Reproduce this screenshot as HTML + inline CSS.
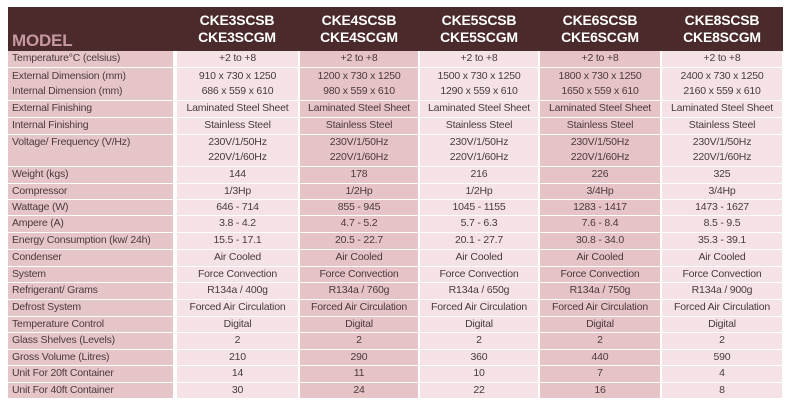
<!DOCTYPE html>
<html><head><meta charset="utf-8">
<style>
body{margin:0;background:#fff;width:791px;height:403px;overflow:hidden;font-family:"Liberation Sans",sans-serif;}
#spec{position:absolute;left:8px;top:7px;border-collapse:collapse;table-layout:fixed;}
#spec td{padding:0;font-size:10.5px;color:#4a3a3c;text-align:center;border-bottom:1px solid #fff;border-right:2px solid #fff;line-height:15px;white-space:nowrap;overflow:hidden;letter-spacing:-0.2px}
#spec tr.hd td{background:#4b2a2b;color:#fff;font-weight:bold;font-size:14px;line-height:17px;border:none;transform-origin:center;}
#spec tr.hd td.lab{color:#c7989f;font-size:17px;text-align:left;vertical-align:bottom;padding:0 0 2px 4px}
#spec td.lab{background:#e6c5c9;text-align:left;padding-left:4px;border-right:4px double #fff}
#spec td.c1,#spec td.c3,#spec td.c5{background:#f5e2e4}
#spec td.c2,#spec td.c4{background:#e6c3c7}
</style></head><body>
<table id="spec">
<colgroup><col style="width:167px"><col style="width:124px"><col style="width:120px"><col style="width:120px"><col style="width:122px"><col style="width:122px"></colgroup>
<tr class="hd" style="height:44px"><td class="lab">MODEL</td><td>CKE3SCSB<br>CKE3SCGM</td><td>CKE4SCSB<br>CKE4SCGM</td><td>CKE5SCSB<br>CKE5SCGM</td><td>CKE6SCSB<br>CKE6SCGM</td><td>CKE8SCSB<br>CKE8SCGM</td></tr>
<tr style="height:16px"><td class="lab">Temperature°C (celsius)</td><td class="c1">+2 to +8</td><td class="c2">+2 to +8</td><td class="c3">+2 to +8</td><td class="c4">+2 to +8</td><td class="c5">+2 to +8</td></tr>
<tr style="height:33px"><td class="lab">External Dimension (mm)<br>Internal Dimension (mm)</td><td class="c1">910 x 730 x 1250<br>686 x 559 x 610</td><td class="c2">1200 x 730 x 1250<br>980 x 559 x 610</td><td class="c3">1500 x 730 x 1250<br>1290 x 559 x 610</td><td class="c4">1800 x 730 x 1250<br>1650 x 559 x 610</td><td class="c5">2400 x 730 x 1250<br>2160 x 559 x 610</td></tr>
<tr style="height:17px"><td class="lab">External Finishing</td><td class="c1">Laminated Steel Sheet</td><td class="c2">Laminated Steel Sheet</td><td class="c3">Laminated Steel Sheet</td><td class="c4">Laminated Steel Sheet</td><td class="c5">Laminated Steel Sheet</td></tr>
<tr style="height:17px"><td class="lab">Internal Finishing</td><td class="c1">Stainless Steel</td><td class="c2">Stainless Steel</td><td class="c3">Stainless Steel</td><td class="c4">Stainless Steel</td><td class="c5">Stainless Steel</td></tr>
<tr style="height:32px"><td class="lab" style="vertical-align:top">Voltage/ Frequency (V/Hz)</td><td class="c1">230V/1/50Hz<br>220V/1/60Hz</td><td class="c2">230V/1/50Hz<br>220V/1/60Hz</td><td class="c3">230V/1/50Hz<br>220V/1/60Hz</td><td class="c4">230V/1/50Hz<br>220V/1/60Hz</td><td class="c5">230V/1/50Hz<br>220V/1/60Hz</td></tr>
<tr style="height:17px"><td class="lab">Weight (kgs)</td><td class="c1">144</td><td class="c2">178</td><td class="c3">216</td><td class="c4">226</td><td class="c5">325</td></tr>
<tr style="height:16px"><td class="lab">Compressor</td><td class="c1">1/3Hp</td><td class="c2">1/2Hp</td><td class="c3">1/2Hp</td><td class="c4">3/4Hp</td><td class="c5">3/4Hp</td></tr>
<tr style="height:16px"><td class="lab">Wattage (W)</td><td class="c1">646 - 714</td><td class="c2">855 - 945</td><td class="c3">1045 - 1155</td><td class="c4">1283 - 1417</td><td class="c5">1473 - 1627</td></tr>
<tr style="height:17px"><td class="lab">Ampere (A)</td><td class="c1">3.8 - 4.2</td><td class="c2">4.7 - 5.2</td><td class="c3">5.7 - 6.3</td><td class="c4">7.6 - 8.4</td><td class="c5">8.5 - 9.5</td></tr>
<tr style="height:17px"><td class="lab">Energy Consumption (kw/ 24h)</td><td class="c1">15.5 - 17.1</td><td class="c2">20.5 - 22.7</td><td class="c3">20.1 - 27.7</td><td class="c4">30.8 - 34.0</td><td class="c5">35.3 - 39.1</td></tr>
<tr style="height:17px"><td class="lab">Condenser</td><td class="c1">Air Cooled</td><td class="c2">Air Cooled</td><td class="c3">Air Cooled</td><td class="c4">Air Cooled</td><td class="c5">Air Cooled</td></tr>
<tr style="height:16px"><td class="lab">System</td><td class="c1">Force Convection</td><td class="c2">Force Convection</td><td class="c3">Force Convection</td><td class="c4">Force Convection</td><td class="c5">Force Convection</td></tr>
<tr style="height:17px"><td class="lab">Refrigerant/ Grams</td><td class="c1">R134a / 400g</td><td class="c2">R134a / 760g</td><td class="c3">R134a / 650g</td><td class="c4">R134a / 750g</td><td class="c5">R134a / 900g</td></tr>
<tr style="height:17px"><td class="lab">Defrost System</td><td class="c1">Forced Air Circulation</td><td class="c2">Forced Air Circulation</td><td class="c3">Forced Air Circulation</td><td class="c4">Forced Air Circulation</td><td class="c5">Forced Air Circulation</td></tr>
<tr style="height:16px"><td class="lab">Temperature Control</td><td class="c1">Digital</td><td class="c2">Digital</td><td class="c3">Digital</td><td class="c4">Digital</td><td class="c5">Digital</td></tr>
<tr style="height:17px"><td class="lab">Glass Shelves (Levels)</td><td class="c1">2</td><td class="c2">2</td><td class="c3">2</td><td class="c4">2</td><td class="c5">2</td></tr>
<tr style="height:16px"><td class="lab">Gross Volume (Litres)</td><td class="c1">210</td><td class="c2">290</td><td class="c3">360</td><td class="c4">440</td><td class="c5">590</td></tr>
<tr style="height:17px"><td class="lab">Unit For 20ft Container</td><td class="c1">14</td><td class="c2">11</td><td class="c3">10</td><td class="c4">7</td><td class="c5">4</td></tr>
<tr style="height:16px"><td class="lab">Unit For 40ft Container</td><td class="c1">30</td><td class="c2">24</td><td class="c3">22</td><td class="c4">16</td><td class="c5">8</td></tr>
</table>
</body></html>
